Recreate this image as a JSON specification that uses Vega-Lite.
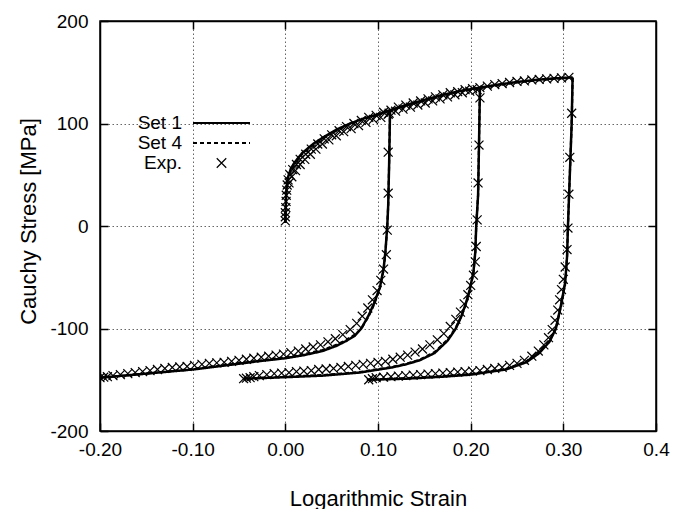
{
  "$schema": "https://vega.github.io/schema/vega-lite/v6.json",
  "width": 556,
  "height": 410,
  "autosize": "none",
  "padding": {"left": 100, "top": 21, "right": 25, "bottom": 78},
  "background": "white",
  "config": {
    "view": {"stroke": "black", "strokeWidth": 1.5},
    "font": "Liberation Sans"
  },
  "datasets": {
    "lines": [
      {"s":"Set 1","b":"L","i":0,"x":0,"y":3},{"s":"Set 1","b":"L","i":1,"x":0.0003,"y":15},{"s":"Set 1","b":"L","i":2,"x":0.0008,"y":28},{"s":"Set 1","b":"L","i":3,"x":0.0015,"y":38},{"s":"Set 1","b":"L","i":4,"x":0.003,"y":48},{"s":"Set 1","b":"L","i":5,"x":0.006,"y":56},{"s":"Set 1","b":"L","i":6,"x":0.01,"y":62},{"s":"Set 1","b":"L","i":7,"x":0.018,"y":71},{"s":"Set 1","b":"L","i":8,"x":0.03,"y":80},{"s":"Set 1","b":"L","i":9,"x":0.04,"y":86},{"s":"Set 1","b":"L","i":10,"x":0.055,"y":94},{"s":"Set 1","b":"L","i":11,"x":0.07,"y":100},{"s":"Set 1","b":"L","i":12,"x":0.085,"y":105},{"s":"Set 1","b":"L","i":13,"x":0.1,"y":109},{"s":"Set 1","b":"L","i":14,"x":0.113,"y":113},{"s":"Set 1","b":"L","i":15,"x":0.13,"y":118},{"s":"Set 1","b":"L","i":16,"x":0.15,"y":123},{"s":"Set 1","b":"L","i":17,"x":0.17,"y":128},{"s":"Set 1","b":"L","i":18,"x":0.19,"y":132},{"s":"Set 1","b":"L","i":19,"x":0.21,"y":135},{"s":"Set 1","b":"L","i":20,"x":0.23,"y":138},{"s":"Set 1","b":"L","i":21,"x":0.25,"y":140.5},{"s":"Set 1","b":"L","i":22,"x":0.27,"y":142.5},{"s":"Set 1","b":"L","i":23,"x":0.29,"y":144},{"s":"Set 1","b":"L","i":24,"x":0.31,"y":145},
      {"s":"Set 1","b":"U1","i":0,"x":0.113,"y":113},{"s":"Set 1","b":"U1","i":1,"x":0.112,"y":60},{"s":"Set 1","b":"U1","i":2,"x":0.111,"y":20},{"s":"Set 1","b":"U1","i":3,"x":0.11,"y":0},{"s":"Set 1","b":"U1","i":4,"x":0.108,"y":-25},{"s":"Set 1","b":"U1","i":5,"x":0.106,"y":-42},{"s":"Set 1","b":"U1","i":6,"x":0.102,"y":-60},{"s":"Set 1","b":"U1","i":7,"x":0.096,"y":-75},{"s":"Set 1","b":"U1","i":8,"x":0.09,"y":-87},{"s":"Set 1","b":"U1","i":9,"x":0.082,"y":-100},{"s":"Set 1","b":"U1","i":10,"x":0.075,"y":-107},{"s":"Set 1","b":"U1","i":11,"x":0.066,"y":-112},{"s":"Set 1","b":"U1","i":12,"x":0.055,"y":-117},{"s":"Set 1","b":"U1","i":13,"x":0.04,"y":-122},{"s":"Set 1","b":"U1","i":14,"x":0.02,"y":-126},{"s":"Set 1","b":"U1","i":15,"x":0.0,"y":-129},{"s":"Set 1","b":"U1","i":16,"x":-0.03,"y":-132},{"s":"Set 1","b":"U1","i":17,"x":-0.06,"y":-135.5},{"s":"Set 1","b":"U1","i":18,"x":-0.1,"y":-140},{"s":"Set 1","b":"U1","i":19,"x":-0.15,"y":-144},{"s":"Set 1","b":"U1","i":20,"x":-0.2,"y":-148},
      {"s":"Set 1","b":"U2","i":0,"x":0.21,"y":135},{"s":"Set 1","b":"U2","i":1,"x":0.209,"y":80},{"s":"Set 1","b":"U2","i":2,"x":0.208,"y":30},{"s":"Set 1","b":"U2","i":3,"x":0.206,"y":0},{"s":"Set 1","b":"U2","i":4,"x":0.205,"y":-25},{"s":"Set 1","b":"U2","i":5,"x":0.203,"y":-45},{"s":"Set 1","b":"U2","i":6,"x":0.199,"y":-62},{"s":"Set 1","b":"U2","i":7,"x":0.195,"y":-75},{"s":"Set 1","b":"U2","i":8,"x":0.19,"y":-88},{"s":"Set 1","b":"U2","i":9,"x":0.184,"y":-100},{"s":"Set 1","b":"U2","i":10,"x":0.175,"y":-112},{"s":"Set 1","b":"U2","i":11,"x":0.161,"y":-124},{"s":"Set 1","b":"U2","i":12,"x":0.145,"y":-131},{"s":"Set 1","b":"U2","i":13,"x":0.13,"y":-135},{"s":"Set 1","b":"U2","i":14,"x":0.115,"y":-138},{"s":"Set 1","b":"U2","i":15,"x":0.08,"y":-143},{"s":"Set 1","b":"U2","i":16,"x":0.04,"y":-146},{"s":"Set 1","b":"U2","i":17,"x":0.0,"y":-147.5},{"s":"Set 1","b":"U2","i":18,"x":-0.045,"y":-149},
      {"s":"Set 1","b":"U3","i":0,"x":0.31,"y":145},{"s":"Set 1","b":"U3","i":1,"x":0.309,"y":100},{"s":"Set 1","b":"U3","i":2,"x":0.307,"y":50},{"s":"Set 1","b":"U3","i":3,"x":0.305,"y":0},{"s":"Set 1","b":"U3","i":4,"x":0.304,"y":-30},{"s":"Set 1","b":"U3","i":5,"x":0.302,"y":-55},{"s":"Set 1","b":"U3","i":6,"x":0.298,"y":-75},{"s":"Set 1","b":"U3","i":7,"x":0.292,"y":-100},{"s":"Set 1","b":"U3","i":8,"x":0.285,"y":-113},{"s":"Set 1","b":"U3","i":9,"x":0.274,"y":-124},{"s":"Set 1","b":"U3","i":10,"x":0.26,"y":-133},{"s":"Set 1","b":"U3","i":11,"x":0.238,"y":-140},{"s":"Set 1","b":"U3","i":12,"x":0.2,"y":-145},{"s":"Set 1","b":"U3","i":13,"x":0.17,"y":-147},{"s":"Set 1","b":"U3","i":14,"x":0.13,"y":-149},{"s":"Set 1","b":"U3","i":15,"x":0.088,"y":-150},
      {"s":"Set 4","b":"L","i":0,"x":0,"y":3},{"s":"Set 4","b":"L","i":1,"x":0.0003,"y":14},{"s":"Set 4","b":"L","i":2,"x":0.0008,"y":27},{"s":"Set 4","b":"L","i":3,"x":0.0015,"y":37},{"s":"Set 4","b":"L","i":4,"x":0.003,"y":47},{"s":"Set 4","b":"L","i":5,"x":0.006,"y":55},{"s":"Set 4","b":"L","i":6,"x":0.01,"y":61},{"s":"Set 4","b":"L","i":7,"x":0.018,"y":70},{"s":"Set 4","b":"L","i":8,"x":0.03,"y":79},{"s":"Set 4","b":"L","i":9,"x":0.04,"y":85.5},{"s":"Set 4","b":"L","i":10,"x":0.055,"y":93},{"s":"Set 4","b":"L","i":11,"x":0.07,"y":99.5},{"s":"Set 4","b":"L","i":12,"x":0.085,"y":104.5},{"s":"Set 4","b":"L","i":13,"x":0.1,"y":108.5},{"s":"Set 4","b":"L","i":14,"x":0.113,"y":112.5},{"s":"Set 4","b":"L","i":15,"x":0.13,"y":117.5},{"s":"Set 4","b":"L","i":16,"x":0.15,"y":122.5},{"s":"Set 4","b":"L","i":17,"x":0.17,"y":127.5},{"s":"Set 4","b":"L","i":18,"x":0.19,"y":131.5},{"s":"Set 4","b":"L","i":19,"x":0.21,"y":134.5},{"s":"Set 4","b":"L","i":20,"x":0.23,"y":137.5},{"s":"Set 4","b":"L","i":21,"x":0.25,"y":140},{"s":"Set 4","b":"L","i":22,"x":0.27,"y":142},{"s":"Set 4","b":"L","i":23,"x":0.29,"y":143.5},{"s":"Set 4","b":"L","i":24,"x":0.31,"y":144.5},
      {"s":"Set 4","b":"U1","i":0,"x":0.113,"y":112.5},{"s":"Set 4","b":"U1","i":1,"x":0.112,"y":60},{"s":"Set 4","b":"U1","i":2,"x":0.111,"y":20},{"s":"Set 4","b":"U1","i":3,"x":0.11,"y":0},{"s":"Set 4","b":"U1","i":4,"x":0.108,"y":-26},{"s":"Set 4","b":"U1","i":5,"x":0.106,"y":-43},{"s":"Set 4","b":"U1","i":6,"x":0.102,"y":-61},{"s":"Set 4","b":"U1","i":7,"x":0.096,"y":-76},{"s":"Set 4","b":"U1","i":8,"x":0.09,"y":-88},{"s":"Set 4","b":"U1","i":9,"x":0.082,"y":-100},{"s":"Set 4","b":"U1","i":10,"x":0.075,"y":-106},{"s":"Set 4","b":"U1","i":11,"x":0.066,"y":-111},{"s":"Set 4","b":"U1","i":12,"x":0.055,"y":-116},{"s":"Set 4","b":"U1","i":13,"x":0.04,"y":-121},{"s":"Set 4","b":"U1","i":14,"x":0.02,"y":-125},{"s":"Set 4","b":"U1","i":15,"x":0.0,"y":-128},{"s":"Set 4","b":"U1","i":16,"x":-0.03,"y":-131.5},{"s":"Set 4","b":"U1","i":17,"x":-0.06,"y":-135},{"s":"Set 4","b":"U1","i":18,"x":-0.1,"y":-139.5},{"s":"Set 4","b":"U1","i":19,"x":-0.15,"y":-144},{"s":"Set 4","b":"U1","i":20,"x":-0.2,"y":-148},
      {"s":"Set 4","b":"U2","i":0,"x":0.21,"y":134.5},{"s":"Set 4","b":"U2","i":1,"x":0.209,"y":80},{"s":"Set 4","b":"U2","i":2,"x":0.208,"y":30},{"s":"Set 4","b":"U2","i":3,"x":0.206,"y":0},{"s":"Set 4","b":"U2","i":4,"x":0.205,"y":-26},{"s":"Set 4","b":"U2","i":5,"x":0.203,"y":-46},{"s":"Set 4","b":"U2","i":6,"x":0.199,"y":-63},{"s":"Set 4","b":"U2","i":7,"x":0.195,"y":-76},{"s":"Set 4","b":"U2","i":8,"x":0.19,"y":-88},{"s":"Set 4","b":"U2","i":9,"x":0.184,"y":-99},{"s":"Set 4","b":"U2","i":10,"x":0.175,"y":-111},{"s":"Set 4","b":"U2","i":11,"x":0.161,"y":-123},{"s":"Set 4","b":"U2","i":12,"x":0.145,"y":-130.5},{"s":"Set 4","b":"U2","i":13,"x":0.13,"y":-134.5},{"s":"Set 4","b":"U2","i":14,"x":0.115,"y":-137.5},{"s":"Set 4","b":"U2","i":15,"x":0.08,"y":-142.5},{"s":"Set 4","b":"U2","i":16,"x":0.04,"y":-145.5},{"s":"Set 4","b":"U2","i":17,"x":0.0,"y":-147},{"s":"Set 4","b":"U2","i":18,"x":-0.045,"y":-149},
      {"s":"Set 4","b":"U3","i":0,"x":0.31,"y":144.5},{"s":"Set 4","b":"U3","i":1,"x":0.309,"y":100},{"s":"Set 4","b":"U3","i":2,"x":0.307,"y":50},{"s":"Set 4","b":"U3","i":3,"x":0.305,"y":0},{"s":"Set 4","b":"U3","i":4,"x":0.304,"y":-31},{"s":"Set 4","b":"U3","i":5,"x":0.302,"y":-56},{"s":"Set 4","b":"U3","i":6,"x":0.298,"y":-76},{"s":"Set 4","b":"U3","i":7,"x":0.292,"y":-100},{"s":"Set 4","b":"U3","i":8,"x":0.285,"y":-112},{"s":"Set 4","b":"U3","i":9,"x":0.274,"y":-123},{"s":"Set 4","b":"U3","i":10,"x":0.26,"y":-132},{"s":"Set 4","b":"U3","i":11,"x":0.238,"y":-139.5},{"s":"Set 4","b":"U3","i":12,"x":0.2,"y":-144.5},{"s":"Set 4","b":"U3","i":13,"x":0.17,"y":-146.5},{"s":"Set 4","b":"U3","i":14,"x":0.13,"y":-148.5},{"s":"Set 4","b":"U3","i":15,"x":0.088,"y":-150}
    ],
    "exp": [
      {"x":0.0,"y":5},{"x":0.0,"y":9},{"x":0.0,"y":13},{"x":0.0005,"y":18},{"x":0.0008,"y":24},{"x":0.001,"y":30},{"x":0.0015,"y":35},{"x":0.002,"y":40},{"x":0.003,"y":45},{"x":0.005,"y":50},{"x":0.008,"y":55},{"x":0.012,"y":60},{"x":0.016,"y":65},{"x":0.022,"y":70},{"x":0.028,"y":75},{"x":0.035,"y":80},{"x":0.042,"y":85},{"x":0.05,"y":89},{"x":0.058,"y":93},{"x":0.066,"y":97},{"x":0.074,"y":100},{"x":0.082,"y":103},{"x":0.09,"y":106},{"x":0.098,"y":108},{"x":0.106,"y":111},{"x":0.114,"y":113},{"x":0.122,"y":116},{"x":0.13,"y":118},{"x":0.138,"y":120},{"x":0.146,"y":122},{"x":0.154,"y":124},{"x":0.162,"y":126},{"x":0.17,"y":128},{"x":0.178,"y":130},{"x":0.186,"y":131},{"x":0.194,"y":133},{"x":0.202,"y":134},{"x":0.21,"y":135},{"x":0.218,"y":136.5},{"x":0.226,"y":138},{"x":0.234,"y":139},{"x":0.242,"y":140},{"x":0.25,"y":141},{"x":0.258,"y":141.5},{"x":0.266,"y":142.5},{"x":0.274,"y":143},{"x":0.282,"y":143.5},{"x":0.29,"y":144},{"x":0.298,"y":144.5},{"x":0.306,"y":145},
      {"x":0.004,"y":42},{"x":0.007,"y":48},{"x":0.011,"y":54},{"x":0.016,"y":60},{"x":0.021,"y":65},{"x":0.027,"y":70},{"x":0.033,"y":75},{"x":0.04,"y":80},{"x":0.047,"y":84},{"x":0.055,"y":88},{"x":0.063,"y":92},{"x":0.071,"y":95},{"x":0.079,"y":98},{"x":0.087,"y":101},{"x":0.095,"y":104},{"x":0.103,"y":106},{"x":0.111,"y":109},{"x":0.119,"y":112},{"x":0.127,"y":114},{"x":0.135,"y":116},{"x":0.143,"y":118},{"x":0.151,"y":120},{"x":0.159,"y":122},{"x":0.167,"y":124},{"x":0.175,"y":126},{"x":0.183,"y":128},{"x":0.191,"y":130},{"x":0.199,"y":131.5},{"x":0.207,"y":133},
      {"x":0.112,"y":110},{"x":0.111,"y":72},{"x":0.111,"y":32},{"x":0.11,"y":-4},{"x":0.109,"y":-28},{"x":0.106,"y":-42},{"x":0.103,"y":-53},{"x":0.099,"y":-63},{"x":0.094,"y":-72},{"x":0.089,"y":-80},{"x":0.083,"y":-88},{"x":0.077,"y":-95},{"x":0.07,"y":-101},{"x":0.062,"y":-106},{"x":0.054,"y":-110},{"x":0.046,"y":-113},{"x":0.038,"y":-116},{"x":0.03,"y":-118},{"x":0.022,"y":-120},{"x":0.014,"y":-122},{"x":0.006,"y":-123.5},{"x":-0.002,"y":-125},{"x":-0.01,"y":-126},{"x":-0.018,"y":-127},{"x":-0.026,"y":-128},{"x":-0.034,"y":-129},{"x":-0.042,"y":-130},{"x":-0.05,"y":-131},{"x":-0.058,"y":-132},{"x":-0.066,"y":-133},{"x":-0.074,"y":-133.5},{"x":-0.082,"y":-134},{"x":-0.09,"y":-135},{"x":-0.098,"y":-136},{"x":-0.106,"y":-137},{"x":-0.114,"y":-137.5},{"x":-0.122,"y":-138},{"x":-0.13,"y":-139},{"x":-0.138,"y":-140},{"x":-0.146,"y":-141},{"x":-0.154,"y":-142},{"x":-0.162,"y":-143},{"x":-0.17,"y":-144},{"x":-0.178,"y":-145},{"x":-0.186,"y":-146},{"x":-0.192,"y":-147},{"x":-0.196,"y":-147.5},{"x":-0.2,"y":-148},
      {"x":0.21,"y":125},{"x":0.209,"y":79},{"x":0.208,"y":42},{"x":0.207,"y":6},{"x":0.206,"y":-20},{"x":0.205,"y":-35},{"x":0.203,"y":-48},{"x":0.2,"y":-58},{"x":0.197,"y":-67},{"x":0.193,"y":-76},{"x":0.189,"y":-84},{"x":0.184,"y":-91},{"x":0.178,"y":-98},{"x":0.171,"y":-105},{"x":0.164,"y":-111},{"x":0.156,"y":-116},{"x":0.148,"y":-120},{"x":0.14,"y":-123},{"x":0.132,"y":-126},{"x":0.124,"y":-128},{"x":0.116,"y":-130},{"x":0.108,"y":-132},{"x":0.1,"y":-133},{"x":0.092,"y":-134},{"x":0.084,"y":-135},{"x":0.076,"y":-136},{"x":0.068,"y":-137},{"x":0.06,"y":-138},{"x":0.052,"y":-139},{"x":0.044,"y":-139.5},{"x":0.036,"y":-140},{"x":0.028,"y":-141},{"x":0.02,"y":-141.5},{"x":0.012,"y":-142},{"x":0.004,"y":-143},{"x":-0.004,"y":-143.5},{"x":-0.012,"y":-144},{"x":-0.02,"y":-145},{"x":-0.028,"y":-146},{"x":-0.034,"y":-147},{"x":-0.038,"y":-148},{"x":-0.042,"y":-148.5},{"x":-0.045,"y":-149},
      {"x":0.309,"y":110},{"x":0.307,"y":67},{"x":0.306,"y":31},{"x":0.305,"y":-2},{"x":0.304,"y":-23},{"x":0.302,"y":-40},{"x":0.3,"y":-52},{"x":0.298,"y":-62},{"x":0.296,"y":-72},{"x":0.294,"y":-82},{"x":0.291,"y":-92},{"x":0.288,"y":-101},{"x":0.284,"y":-109},{"x":0.279,"y":-116},{"x":0.273,"y":-122},{"x":0.266,"y":-127},{"x":0.258,"y":-131},{"x":0.25,"y":-134},{"x":0.242,"y":-136},{"x":0.234,"y":-138},{"x":0.226,"y":-139},{"x":0.218,"y":-140},{"x":0.21,"y":-141},{"x":0.202,"y":-141.5},{"x":0.194,"y":-142},{"x":0.186,"y":-142.5},{"x":0.178,"y":-143},{"x":0.17,"y":-143.5},{"x":0.162,"y":-144},{"x":0.154,"y":-144.5},{"x":0.146,"y":-145},{"x":0.138,"y":-145.5},{"x":0.13,"y":-146},{"x":0.122,"y":-146.5},{"x":0.114,"y":-147},{"x":0.106,"y":-147.5},{"x":0.098,"y":-148},{"x":0.094,"y":-149},{"x":0.09,"y":-150}
    ]
  },
  "layer": [
    {
      "data": {"name": "lines"},
      "transform": [{"filter": "datum.s === 'Set 1'"}],
      "mark": {"type": "line", "color": "black", "strokeWidth": 2.5, "clip": true},
      "encoding": {
        "x": {
          "field": "x", "type": "quantitative",
          "scale": {"domain": [-0.2, 0.4], "nice": false, "zero": false},
          "axis": {
            "orient": "bottom", "values": [-0.2, -0.1, 0, 0.1, 0.2, 0.3, 0.4], "format": ".2f",
            "labelExpr": "datum.value > 0.35 ? '0.4' : replace(datum.label, '−', '-')",
            "grid": true, "gridDash": [1.5, 2.5], "gridColor": "#666", "gridWidth": 1,
            "tickSize": -8, "tickWidth": 1.5, "tickColor": "black",
            "labelPadding": 17, "labelFontSize": 19, "labelColor": "black", "labelFlush": false, "labelFont": "Liberation Sans",
            "domainColor": "black", "domainWidth": 1.5,
            "title": "Logarithmic Strain", "titleFontSize": 22, "titleFontWeight": "normal", "titleColor": "black", "titleFont": "Liberation Sans",
            "titleX": 278, "titleY": 74, "titleBaseline": "alphabetic", "titleAlign": "center"
          }
        },
        "y": {
          "field": "y", "type": "quantitative",
          "scale": {"domain": [-200, 200], "nice": false, "zero": false},
          "axis": {
            "orient": "left", "values": [-200, -100, 0, 100, 200], "format": "d",
            "labelExpr": "replace(datum.label, '−', '-')",
            "grid": true, "gridDash": [1.5, 2.5], "gridColor": "#666", "gridWidth": 1,
            "tickSize": -8, "tickWidth": 1.5, "tickColor": "black",
            "labelPadding": 20, "labelFontSize": 19, "labelColor": "black", "labelFlush": false, "labelFont": "Liberation Sans",
            "domainColor": "black", "domainWidth": 1.5,
            "title": "Cauchy Stress [MPa]", "titleFontSize": 22, "titleFontWeight": "normal", "titleColor": "black", "titleFont": "Liberation Sans",
            "titleX": -72, "titleY": 200, "titleAngle": -90, "titleBaseline": "middle", "titleAlign": "center"
          }
        },
        "detail": {"field": "b", "type": "nominal"},
        "order": {"field": "i", "type": "quantitative"},
        "strokeDash": {
          "field": "s", "type": "nominal",
          "scale": {"domain": ["Set 1"], "range": [[1, 0]]},
          "legend": {
            "orient": "none", "legendX": 92, "legendY": 72.5, "title": null, "padding": 0,
            "symbolType": "stroke", "symbolSize": 3249, "symbolStrokeWidth": 2, "symbolStrokeColor": "black",
            "labelAlign": "right", "labelOffset": -69, "labelFontSize": 19, "labelColor": "black", "labelFont": "Liberation Sans"
          }
        }
      }
    },
    {
      "data": {"name": "lines"},
      "transform": [{"filter": "datum.s === 'Set 4'"}],
      "mark": {"type": "line", "color": "black", "strokeWidth": 2.2, "clip": true},
      "encoding": {
        "x": {"field": "x", "type": "quantitative", "axis": null},
        "y": {"field": "y", "type": "quantitative", "axis": null},
        "detail": {"field": "b", "type": "nominal"},
        "order": {"field": "i", "type": "quantitative"},
        "strokeDash": {
          "field": "s", "type": "nominal",
          "scale": {"domain": ["Set 4"], "range": [[4, 3]]},
          "legend": {
            "orient": "none", "legendX": 92, "legendY": 92.5, "title": null, "padding": 0,
            "symbolType": "stroke", "symbolSize": 3249, "symbolStrokeWidth": 2, "symbolStrokeColor": "black",
            "labelAlign": "right", "labelOffset": -69, "labelFontSize": 19, "labelColor": "black", "labelFont": "Liberation Sans"
          }
        }
      }
    },
    {
      "data": {"name": "exp"},
      "mark": {"type": "point", "size": 80, "color": "black", "stroke": "black", "strokeWidth": 1.2, "filled": false, "opacity": 1, "clip": true},
      "encoding": {
        "x": {
          "field": "x", "type": "quantitative",
          "axis": {"orient": "top", "values": [-0.1, 0, 0.1, 0.2, 0.3], "labels": false, "grid": false, "tickSize": -8, "tickWidth": 1.5, "tickColor": "black", "domainColor": "black", "domainWidth": 1.5, "title": null}
        },
        "y": {
          "field": "y", "type": "quantitative",
          "axis": {"orient": "right", "values": [-100, 0, 100], "labels": false, "grid": false, "tickSize": -8, "tickWidth": 1.5, "tickColor": "black", "domainColor": "black", "domainWidth": 1.5, "title": null}
        },
        "shape": {
          "datum": "Exp.",
          "scale": {"domain": ["Exp."], "range": ["M-1,-1L1,1M-1,1L1,-1"]},
          "legend": {
            "orient": "none", "legendX": 112, "legendY": 132.5, "title": null, "padding": 0,
            "symbolSize": 90, "symbolStrokeWidth": 1.2, "symbolStrokeColor": "black", "symbolFillColor": "transparent",
            "labelAlign": "right", "labelOffset": -49, "labelFontSize": 19, "labelColor": "black", "labelFont": "Liberation Sans"
          }
        }
      }
    }
  ],
  "resolve": {
    "axis": {"x": "independent", "y": "independent"},
    "scale": {"strokeDash": "independent"},
    "legend": {"strokeDash": "independent"}
  }
}
